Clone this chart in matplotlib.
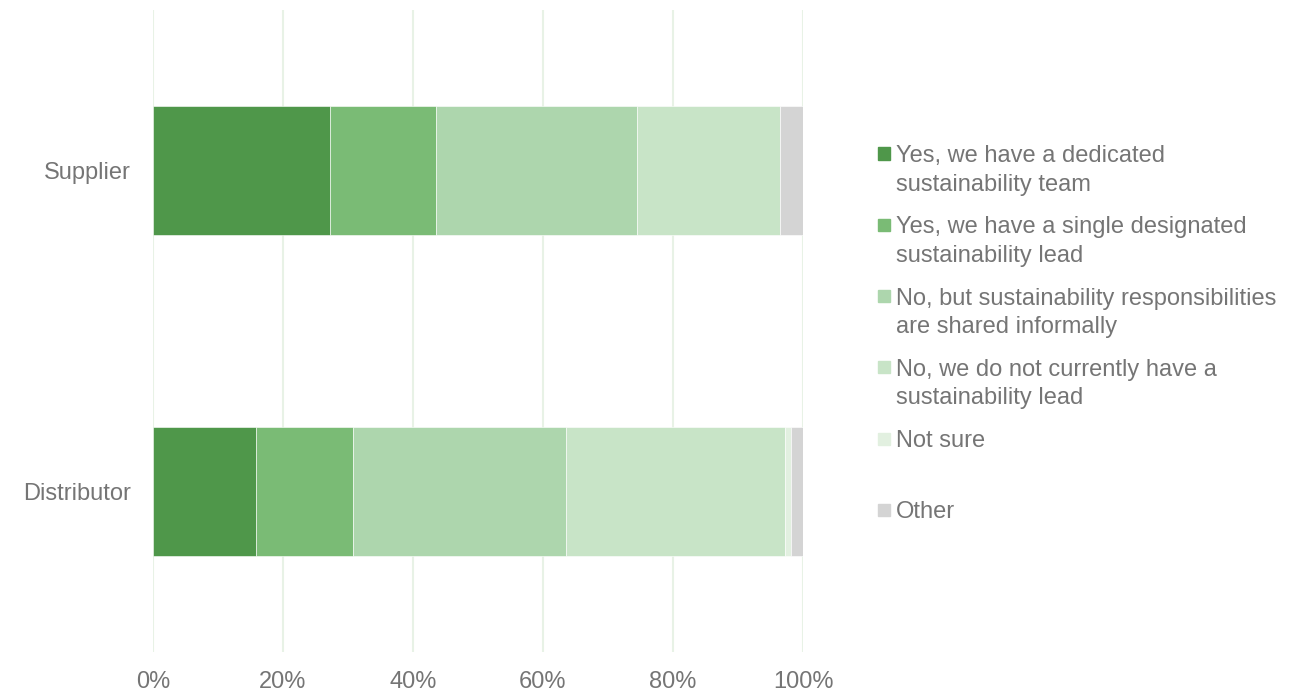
import numpy as np
import matplotlib
matplotlib.use("Agg")
import matplotlib.pyplot as plt
from matplotlib.patches import Rectangle

plt.rcParams['font.family'] = ['Liberation Sans', 'DejaVu Sans']

categories = ['Supplier', 'Distributor']
labels = ['Yes, we have a dedicated\nsustainability team',
          'Yes, we have a single designated\nsustainability lead',
          'No, but sustainability responsibilities\nare shared informally',
          'No, we do not currently have a\nsustainability lead',
          'Not sure',
          'Other']
supplier = [27.3, 16.3, 30.9, 21.9, 0.0, 3.6]
distributor = [15.8, 15.0, 32.7, 33.7, 0.9, 1.9]
colors = ['#4F974A', '#7ABB75', '#ADD6AD', '#C8E4C7', '#E2F0E0', '#D4D4D4']
xticks = [0, 20, 40, 60, 80, 100]

grey = '#757575'
W, H = 1304, 695
fig = plt.figure(figsize=(W / 100, H / 100), dpi=100)
ax = fig.add_axes([153 / W, 1 - 652 / H, 650 / W, 642 / H])

vals = np.array([supplier, distributor])
y = np.arange(len(categories))
left = np.zeros(len(categories))
for j in range(len(labels)):
    ax.barh(y, vals[:, j], left=left, height=0.4, color=colors[j],
            edgecolor='white', linewidth=0.4, zorder=3)
    left += vals[:, j]

ax.set_ylim(-0.5, 1.5)
ax.invert_yaxis()
ax.set_xlim(0, 100)
ax.set_xticks(xticks)
ax.set_xticklabels([f'{t}%' for t in xticks])
ax.set_yticks(y)
ax.set_yticklabels(categories)
ax.tick_params(axis='x', length=0, pad=14, labelsize=17, labelcolor=grey)
ax.tick_params(axis='y', length=0, pad=16, labelsize=17, labelcolor=grey)
ax.grid(axis='x', color='#E8F2E6', linewidth=1.5, zorder=0)
for s in ax.spines.values():
    s.set_visible(False)

# legend drawn by hand to keep Excel-like spacing
for i, lab in enumerate(labels):
    top = 145 + i * 71.3
    fig.add_artist(Rectangle((878 / W, 1 - (top + 14.5) / H), 12 / W, 12 / H,
                             transform=fig.transFigure, color=colors[i]))
    for k, line in enumerate(lab.split('\n')):
        base = top + 17 + k * 28.5
        fig.text(896 / W, 1 - base / H, line, fontsize=17, color=grey,
                 va='baseline', ha='left')

fig.savefig('out.png', dpi=100)
